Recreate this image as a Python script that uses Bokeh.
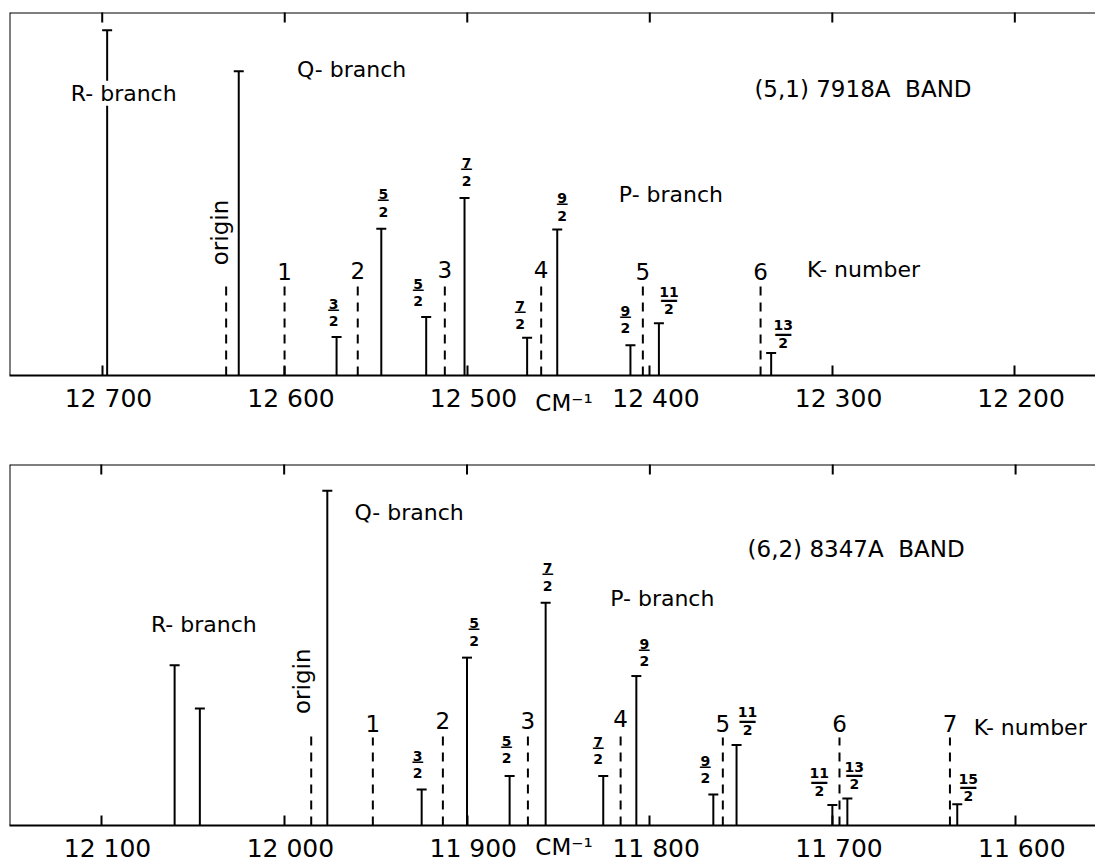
import math
from bokeh.plotting import figure
from bokeh.models import Range1d, FixedTicker, LinearAxis, Label, Span, ColumnDataSource
from bokeh.layouts import column
from bokeh.embed import file_html
from bokeh.resources import INLINE
from bokeh.core.properties import value

FONT = "DejaVu Sans"

# ---------------- data: (5,1) 7918 A band ----------------
a_ticks = [12700, 12600, 12500, 12400, 12300, 12200]
a_tick_labels = ["12 700", "12 600", "12 500", "12 400", "12 300", "12 200"]
a_r_nu = [12697.3]
a_r_int = [95.1]
a_q_nu = [12625.2]
a_q_int = [83.8]
a_origin_nu = [12632.1]
a_origin_int = [25.7]
a_k = [1, 2, 3, 4, 5, 6]
a_k_nu = [12600.1, 12560.0, 12512.3, 12459.5, 12403.8, 12339.3]
a_k_int = [24.8, 25.1, 25.3, 25.3, 24.8, 24.8]
a_p_nu = [12571.6, 12547.1, 12522.5, 12501.5, 12467.2, 12450.7, 12410.6, 12395.0, 12333.5]
a_p_int = [10.6, 40.4, 16.1, 48.9, 10.4, 40.2, 8.3, 14.4, 6.2]
a_p_jnum = ["3", "5", "5", "7", "7", "9", "9", "11", "13"]
a_p_jden = ["2", "2", "2", "2", "2", "2", "2", "2", "2"]

# ---------------- data: (6,2) 8347 A band ----------------
b_ticks = [12100, 12000, 11900, 11800, 11700, 11600]
b_tick_labels = ["12 100", "12 000", "11 900", "11 800", "11 700", "11 600"]
b_r_nu = [12059.9, 12046.1]
b_r_int = [44.4, 32.4]
b_q_nu = [11976.4]
b_q_int = [92.7]
b_origin_nu = [11985.2]
b_origin_int = [24.8]
b_k = [1, 2, 3, 4, 5, 6, 7]
b_k_nu = [11951.5, 11913.2, 11866.7, 11816.0, 11760.1, 11696.3, 11635.9]
b_k_int = [24.4, 25.1, 25.1, 25.7, 24.4, 24.4, 24.4]
b_p_nu = [11924.8, 11900.0, 11876.7, 11857.0, 11825.5, 11807.4, 11765.3, 11752.6, 11700.2, 11692.0, 11631.9]
b_p_int = [10.0, 46.5, 13.7, 61.7, 13.7, 41.4, 8.6, 22.3, 5.7, 7.5, 5.9]
b_p_jnum = ["3", "5", "5", "7", "7", "9", "9", "11", "11", "13", "15"]
b_p_jden = ["2", "2", "2", "2", "2", "2", "2", "2", "2", "2", "2"]

UNIT = "CM\u207b\u00b9"

# ---------------- label layout (pixel nudges, annotation anchors) ----------------
a_frac_dx = [-3, 2, -8, 2, -7, 5, -5, 10, 12]
a_frac_gap = [16, 17, 16, 17, 14, 14, 17, 14, 10]
b_frac_dx = [-4, 7, -3, 2, -5, 8, -8, 11, -13, 7, 11]
b_frac_gap = [16, 17, 18, 17, 17, 15, 16, 15, 14, 14, 8]

a_notes = [("R- branch", 12688.2, 76.1, 22), ("Q- branch", 12563.4, 82.7, 22),
           ("P- branch", 12388.4, 48.2, 22), ("K- number", 12282.9, 27.6, 22),
           ("(5,1) 7918A \u00a0BAND", 12283.2, 77.2, 23)]
b_notes = [("R- branch", 12043.9, 54.1, 22), ("Q- branch", 11931.7, 85.0, 22),
           ("P- branch", 11793.2, 61.2, 22), ("K- number", 11592.0, 25.6, 22),
           ("(6,2) 8347A \u00a0BAND", 11687.2, 74.8, 23)]
NOTE_LIFT_PX = 6


def panel(x0, x1, frame_h, top_border, unit_standoff, ticks, tick_labels, r_nu, r_int,
          q_nu, q_int, o_nu, o_int, k, k_nu, k_int, p_nu, p_int, jnum, jden, fdx, fgap,
          notes, origin_off):
    p = figure(frame_width=1086, frame_height=frame_h,
               x_range=Range1d(x0, x1), y_range=Range1d(0, 100),
               x_axis_location=None, y_axis_location=None,
               output_backend="svg", toolbar_location=None,
               min_border_left=9, min_border_right=0, min_border_top=top_border,
               min_border_bottom=0, background_fill_color="white",
               border_fill_color="white")
    p.outline_line_color = None
    p.xgrid.visible = False
    p.ygrid.visible = False

    # frame edges: top and left (the right edge is cut off in the original)
    p.add_layout(Span(location=100, dimension="width", line_color="black", line_width=2))
    p.add_layout(Span(location=x0, dimension="height", line_color="black", line_width=2))

    bottom = LinearAxis(ticker=FixedTicker(ticks=ticks, minor_ticks=[]),
                        major_label_overrides={t: "\u2002" + s for t, s in zip(ticks, tick_labels)})
    bottom.axis_line_width = 2
    bottom.axis_line_color = "black"
    bottom.major_tick_line_width = 2
    bottom.major_tick_line_color = "black"
    bottom.major_tick_in = 10
    bottom.major_tick_out = 0
    bottom.minor_tick_in = 0
    bottom.minor_tick_out = 0
    bottom.major_label_text_font = FONT
    bottom.major_label_text_font_size = "25px"
    bottom.major_label_text_color = "black"
    bottom.major_label_standoff = 8
    bottom.axis_label = "\u2003" + UNIT
    bottom.axis_label_text_font = FONT
    bottom.axis_label_text_font_size = "23px"
    bottom.axis_label_text_font_style = "normal"
    bottom.axis_label_text_color = "black"
    bottom.axis_label_standoff = unit_standoff
    p.add_layout(bottom, "below")

    # inward ticks along the top edge (half of each vertical dash is clipped by the frame)
    p.scatter(x=ticks, y=[100] * len(ticks), marker="dash", angle=math.pi / 2, size=20,
              line_width=2, line_color="black")

    # solid lines (R, Q, P branch) with T caps
    solid = ColumnDataSource(dict(nu=r_nu + q_nu + p_nu, h=r_int + q_int + p_int))
    p.segment(x0="nu", y0=0, x1="nu", y1="h", source=solid, line_width=2, line_color="black")
    p.scatter(x="nu", y="h", marker="dash", size=10, line_width=2, line_color="black", source=solid)

    # dashed lines: origin and K numbers
    dashed = ColumnDataSource(dict(nu=o_nu + k_nu, h=o_int + k_int))
    p.segment(x0="nu", y0=0, x1="nu", y1="h", source=dashed, line_width=2,
              line_color="black", line_dash="9 7")

    ksrc = ColumnDataSource(dict(nu=k_nu, h=k_int, t=[str(v) for v in k]))
    p.text(x="nu", y="h", text="t", source=ksrc, y_offset=-14, text_align="center",
           text_baseline="alphabetic", text_font=value(FONT), text_font_size="23px",
           text_color="black")

    # origin label (rotated)
    osrc = ColumnDataSource(dict(nu=o_nu, h=o_int, t=["origin"]))
    p.text(x="nu", y="h", text="t", source=osrc, angle=math.pi / 2, x_offset=origin_off[0],
           y_offset=origin_off[1], text_align="left", text_baseline="alphabetic",
           text_font=value(FONT), text_font_size="23px", text_color="black")

    # J fractions above the P-branch lines
    bar_fs = [12 if len(n) == 1 else 18 for n in jnum]
    fsrc = ColumnDataSource(dict(
        nu=p_nu, h=p_int, num=jnum, den=jden, bar=["\u2014"] * len(jnum), dx=fdx,
        dden=[-g for g in fgap],
        dnum=[-g - 17.5 for g in fgap],
        dbar=[-g - 15 + 0.29 * fs for g, fs in zip(fgap, bar_fs)],
        bfs=["%dpx" % fs for fs in bar_fs]))
    common = dict(source=fsrc, x="nu", y="h", x_offset="dx", text_align="center",
                  text_baseline="alphabetic", text_font=value(FONT), text_color="black",
                  text_font_style="bold")
    p.text(text="den", y_offset="dden", text_font_size="14px", **common)
    p.text(text="num", y_offset="dnum", text_font_size="14px", **common)
    p.text(text="bar", y_offset="dbar", text_font_size="bfs", **common)

    lift = NOTE_LIFT_PX * 100.0 / frame_h
    for txt, xx, yy, fs in notes:
        p.add_layout(Label(x=xx, y=yy + lift, text=txt, text_align="center",
                           text_baseline="alphabetic", text_font=FONT,
                           text_font_size="%dpx" % fs, text_color="black",
                           background_fill_color="white"))
    return p


p1 = panel(12750.8, 12155.8, 363, 12, -26, a_ticks, a_tick_labels, a_r_nu, a_r_int,
           a_q_nu, a_q_int, a_origin_nu, a_origin_int, a_k, a_k_nu, a_k_int, a_p_nu, a_p_int,
           a_p_jnum, a_p_jden, a_frac_dx, a_frac_gap, a_notes, (-6, -17))
p2 = panel(12150.2, 11556.3, 361, 46, -32, b_ticks, b_tick_labels, b_r_nu, b_r_int,
           b_q_nu, b_q_int, b_origin_nu, b_origin_int, b_k, b_k_nu, b_k_int, b_p_nu, b_p_int,
           b_p_jnum, b_p_jden, b_frac_dx, b_frac_gap, b_notes, (-9, -22))

layout = column(p1, p2, spacing=0)
open("out.html", "w").write(file_html(layout, INLINE))
